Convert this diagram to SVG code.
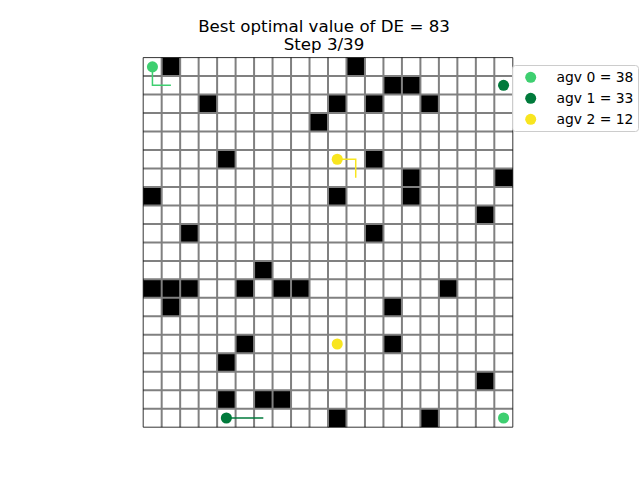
<svg xmlns="http://www.w3.org/2000/svg" width="640" height="480" viewBox="0 0 640 480">
<style>
.t{font-family:"DejaVu Sans",sans-serif;fill:#000}
.title{font-size:16.67px;text-anchor:middle}
.lg{font-size:13.9px}
.ob{fill:#000}
.gl{stroke:#808080;stroke-width:2;fill:none}
.pth{fill:none;stroke-width:1.5;stroke-linejoin:miter}
.a0{fill:#3ecf70}
.a1{fill:#007a3b}
.a2{fill:#f8e51f}
</style>
<rect width="640" height="480" fill="#fff"/>
<g id="title">
<text class="t title" x="324" y="32.3">Best optimal value of DE = 83</text>
<text class="t title" x="324" y="49.6">Step 3/39</text>
</g>
<g id="grid" transform="translate(143.2,57.6) scale(18.48)">
<rect x="0" y="0" width="20" height="20" fill="#fff"/>
<g id="obstacles" class="ob">
<rect x="1" y="0" width="1" height="1"/><rect x="11" y="0" width="1" height="1"/>
<rect x="13" y="1" width="1" height="1"/><rect x="14" y="1" width="1" height="1"/>
<rect x="3" y="2" width="1" height="1"/><rect x="10" y="2" width="1" height="1"/><rect x="12" y="2" width="1" height="1"/><rect x="15" y="2" width="1" height="1"/>
<rect x="9" y="3" width="1" height="1"/>
<rect x="4" y="5" width="1" height="1"/><rect x="12" y="5" width="1" height="1"/>
<rect x="14" y="6" width="1" height="1"/><rect x="19" y="6" width="1" height="1"/>
<rect x="0" y="7" width="1" height="1"/><rect x="10" y="7" width="1" height="1"/><rect x="14" y="7" width="1" height="1"/>
<rect x="18" y="8" width="1" height="1"/>
<rect x="2" y="9" width="1" height="1"/><rect x="12" y="9" width="1" height="1"/>
<rect x="6" y="11" width="1" height="1"/>
<rect x="0" y="12" width="3" height="1"/><rect x="5" y="12" width="1" height="1"/><rect x="7" y="12" width="2" height="1"/><rect x="16" y="12" width="1" height="1"/>
<rect x="1" y="13" width="1" height="1"/><rect x="13" y="13" width="1" height="1"/>
<rect x="5" y="15" width="1" height="1"/><rect x="13" y="15" width="1" height="1"/>
<rect x="4" y="16" width="1" height="1"/>
<rect x="18" y="17" width="1" height="1"/>
<rect x="4" y="18" width="1" height="1"/><rect x="6" y="18" width="2" height="1"/>
<rect x="10" y="19" width="1" height="1"/><rect x="15" y="19" width="1" height="1"/>
</g>
<path class="gl" vector-effect="non-scaling-stroke" d="M1 0V20M2 0V20M3 0V20M4 0V20M5 0V20M6 0V20M7 0V20M8 0V20M9 0V20M10 0V20M11 0V20M12 0V20M13 0V20M14 0V20M15 0V20M16 0V20M17 0V20M18 0V20M19 0V20M0 1H20M0 2H20M0 3H20M0 4H20M0 5H20M0 6H20M0 7H20M0 8H20M0 9H20M0 10H20M0 11H20M0 12H20M0 13H20M0 14H20M0 15H20M0 16H20M0 17H20M0 18H20M0 19H20"/>
<rect x="0" y="0" width="20" height="20" fill="none" stroke="#000" stroke-width="0.8" vector-effect="non-scaling-stroke"/>
<g id="connectors">
<path class="pth" vector-effect="non-scaling-stroke" stroke="#3ecf70" d="M0.5 0.5V1.5H1.5"/>
<path class="pth" vector-effect="non-scaling-stroke" stroke="#f8e51f" d="M10.5 5.5H11.5V6.5"/>
<path class="pth" vector-effect="non-scaling-stroke" stroke="#007a3b" d="M4.5 19.5H6.5"/>
</g>
<g id="agv0"><circle class="a0" cx="0.5" cy="0.5" r="0.3"/><circle class="a0" cx="19.5" cy="19.5" r="0.3"/></g>
<g id="agv1"><circle class="a1" cx="4.5" cy="19.5" r="0.3"/><circle class="a1" cx="19.5" cy="1.5" r="0.3"/></g>
<g id="agv2"><circle class="a2" cx="10.5" cy="5.5" r="0.3"/><circle class="a2" cx="10.5" cy="15.5" r="0.3"/></g>
</g>
<g id="legend">
<rect x="512.5" y="65.5" width="126" height="66" rx="3" fill="#fff" fill-opacity="0.8" stroke="#cccccc" stroke-width="1"/>
<circle class="a0" cx="530.7" cy="77.3" r="5.5"/>
<circle class="a1" cx="530.7" cy="98.3" r="5.5"/>
<circle class="a2" cx="530.7" cy="119.3" r="5.5"/>
<text class="t lg" x="556.5" y="82.3">agv 0 = 38</text>
<text class="t lg" x="556.5" y="103.3">agv 1 = 33</text>
<text class="t lg" x="556.5" y="124.3">agv 2 = 12</text>
</g>
</svg>
